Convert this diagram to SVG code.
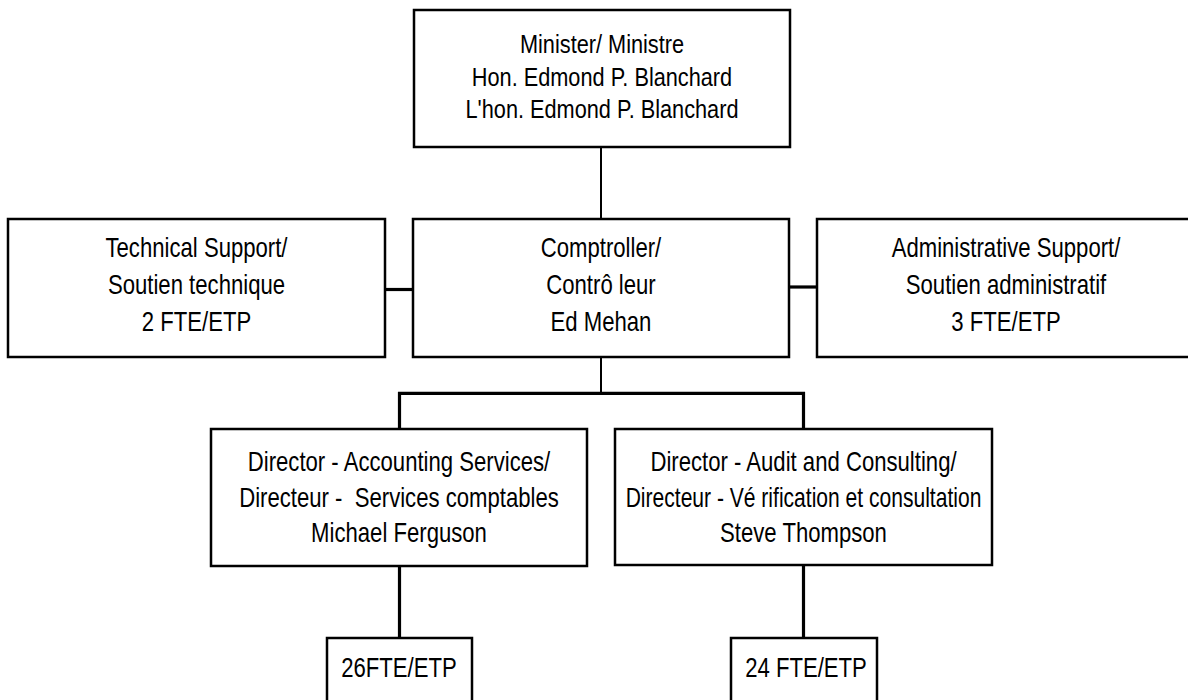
<svg xmlns="http://www.w3.org/2000/svg" width="1188" height="700" viewBox="0 0 1188 700">
<style>
.box{fill:#fff;stroke:#000;stroke-width:2.5}
.t{font-family:"Liberation Sans",Arial,sans-serif;font-size:27px;fill:#000;text-anchor:middle;white-space:pre}
.m{font-size:26.5px}
.thin{stroke:#000;stroke-width:2;fill:none}
.thick{stroke:#000;stroke-width:3.2;fill:none}
</style>
<rect width="1188" height="700" fill="#fff"/>
<g id="connectors">
<line class="thin" x1="601" y1="147" x2="601" y2="219"/>
<line class="thick" x1="385" y1="289.5" x2="413" y2="289.5"/>
<line class="thick" x1="789" y1="287" x2="817" y2="287"/>
<line class="thin" x1="601" y1="357" x2="601" y2="393"/>
<polyline class="thick" points="399.5,429 399.5,393.3 803.5,393.3 803.5,429"/>
<line class="thick" x1="399.5" y1="566" x2="399.5" y2="638"/>
<line class="thick" x1="803.5" y1="565" x2="803.5" y2="638"/>
</g>
<g id="minister">
<rect class="box" x="414" y="10" width="376" height="137"/>
<g transform="translate(602 0) scale(0.82 1)">
<text class="t m" x="0" y="53">Minister/ Ministre</text>
<text class="t m" x="0" y="86">Hon. Edmond P. Blanchard</text>
<text class="t m" x="0" y="118">L'hon. Edmond P. Blanchard</text>
</g>
</g>
<g id="technical">
<rect class="box" x="8" y="219" width="377" height="138"/>
<g transform="translate(196.5 0) scale(0.82 1)">
<text class="t" x="0" y="257">Technical Support/</text>
<text class="t" x="0" y="294">Soutien technique</text>
<text class="t" x="0" y="331">2 FTE/ETP</text>
</g>
</g>
<g id="comptroller">
<rect class="box" x="413" y="219" width="376" height="138"/>
<g transform="translate(601 0) scale(0.82 1)">
<text class="t" x="0" y="257">Comptroller/</text>
<text class="t" x="0" y="294">Contrô leur</text>
<text class="t" x="0" y="331">Ed Mehan</text>
</g>
</g>
<g id="administrative">
<rect class="box" x="817" y="219" width="380" height="138"/>
<g transform="translate(1006 0) scale(0.82 1)">
<text class="t" x="0" y="257">Administrative Support/</text>
<text class="t" x="0" y="294">Soutien administratif</text>
<text class="t" x="0" y="331">3 FTE/ETP</text>
</g>
</g>
<g id="director-accounting">
<rect class="box" x="211" y="429" width="376" height="137"/>
<g transform="translate(399 0) scale(0.82 1)">
<text class="t" x="0" y="471">Director - Accounting Services/</text>
<text class="t" x="0" y="507">Directeur -  Services comptables</text>
<text class="t" x="0" y="542">Michael Ferguson</text>
</g>
</g>
<g id="director-audit">
<rect class="box" x="615" y="429" width="377" height="136"/>
<g transform="translate(803.5 0) scale(0.82 1)">
<text class="t" x="0" y="471">Director - Audit and Consulting/</text>
<text class="t" x="0" y="542">Steve Thompson</text>
</g>
<g transform="translate(803.5 0) scale(0.78 1)">
<text class="t" x="0" y="507">Directeur - Vé rification et consultation</text>
</g>
</g>
<g id="fte-accounting">
<rect class="box" x="327" y="638" width="145" height="80"/>
<g transform="translate(399 0) scale(0.82 1)">
<text class="t" x="0" y="677">26FTE/ETP</text>
</g>
</g>
<g id="fte-audit">
<rect class="box" x="731" y="638" width="146" height="80"/>
<g transform="translate(806 0) scale(0.82 1)">
<text class="t" x="0" y="677">24 FTE/ETP</text>
</g>
</g>
</svg>
